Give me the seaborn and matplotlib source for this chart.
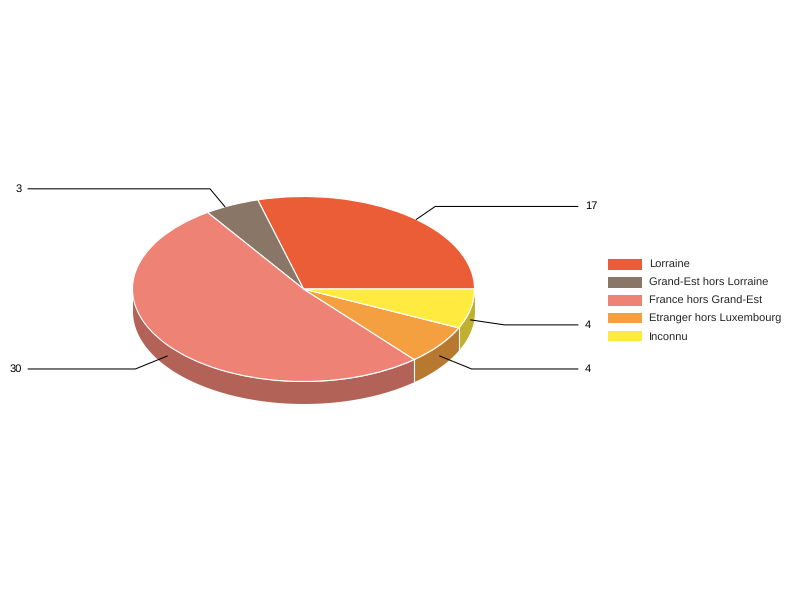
import numpy as np
import matplotlib
matplotlib.use('Agg')
import matplotlib.pyplot as plt
from matplotlib.patches import Patch
import seaborn as sns

categories = ['Lorraine', 'Grand-Est hors Lorraine', 'France hors Grand-Est',
              'Etranger hors Luxembourg', 'Inconnu']
values = [17, 3, 30, 4, 4]
hex_colors = ['#EA5D36', '#8A7667', '#EE8375', '#F4A040', '#FFEB40']

# pie geometry in pixels
CX, CY = 303.5, 289
RX, RY = 171, 92.5
DEPTH = 22 / RY

# leader layout: elbow offset from the anchor (pixels), and a nudge of the anchor
elbow_dx = [19, -15, -32, 32, 34]
elbow_dy = [-13, -18, 13, 13, 5]
angle_nudge = [-4, 2.5, 0, 0, 0]
depth_frac = [0, 0, 0.5, 0.5, 0.5]

sns.set_theme(style='white')
plt.rcParams['font.family'] = ['Liberation Sans', 'DejaVu Sans']
plt.rcParams['text.hinting'] = 'no_hinting'
palette = sns.color_palette(hex_colors)
side_colors = [tuple(c * 0.75 for c in col) for col in palette]

fig = plt.figure(figsize=(8, 6), dpi=100)
ax = fig.add_axes([0, 0, 1, 1])

# top of the pie, squashed afterwards through the axis limits
ax.pie(values, colors=palette, startangle=0, counterclock=True, radius=1,
       wedgeprops={'edgecolor': 'white', 'linewidth': 0.8, 'zorder': 3})

bounds = np.cumsum([0] + values) / sum(values) * 360

# side wall, only the front half shows
for i in range(len(values)):
    a, b = max(bounds[i], 180), min(bounds[i + 1], 360)
    if b <= a:
        continue
    t = np.radians(np.linspace(a, b, 80))
    ax.fill_between(np.cos(t), np.sin(t) - DEPTH, np.sin(t), color=side_colors[i],
                    linewidth=0, zorder=1)
    if bounds[i] > 180:
        x0, y0 = np.cos(np.radians(a)), np.sin(np.radians(a))
        ax.plot([x0, x0], [y0, y0 - DEPTH], color='white', lw=0.8, zorder=2)

# leaders and value labels
for i, v in enumerate(values):
    mid = np.radians((bounds[i] + bounds[i + 1]) / 2 + angle_nudge[i])
    x0 = np.cos(mid)
    y0 = np.sin(mid) - depth_frac[i] * DEPTH
    x1 = x0 + elbow_dx[i] / RX
    y1 = y0 - elbow_dy[i] / RY
    right = x0 > 0
    x2 = (578 - CX) / RX if right else (28 - CX) / RX
    ax.plot([x0, x1, x2], [y0, y1, y1], color='black', lw=0.75, zorder=4)
    tx = (585 - CX) / RX if right else (22 - CX) / RX
    ax.text(tx, y1, str(v), fontsize=8, color='black', va='center',
            ha='left' if right else 'right', zorder=5)

handles = [Patch(facecolor=c, edgecolor='none') for c in palette]
ax.legend(handles, categories, loc='upper left',
          bbox_to_anchor=(604 / 800, 1 - 255 / 600), frameon=False, fontsize=8,
          handlelength=3.05, handleheight=1.05, handletextpad=0.6,
          labelspacing=0.6, borderpad=0.4, borderaxespad=0)

# one data unit is RX pixels across and RY pixels up
ax.set_aspect('auto')
ax.set_xlim(-CX / RX, (800 - CX) / RX)
ax.set_ylim(-(600 - CY) / RY, CY / RY)
ax.axis('off')

fig.savefig('out.png', dpi=100, facecolor='white')
